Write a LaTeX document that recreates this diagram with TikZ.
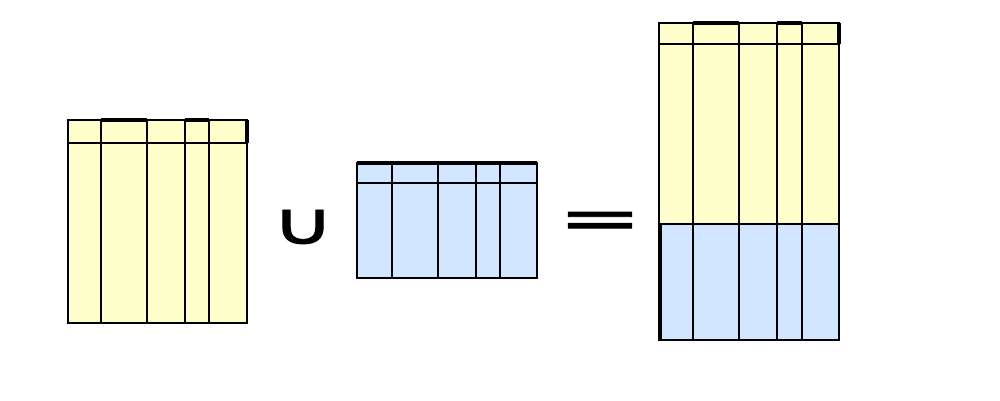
\documentclass[tikz,border=0pt]{standalone}
\usepackage{fontspec}
\newfontfamily\symfont[FakeBold=1.5]{DejaVu Sans}
\definecolor{ylw}{HTML}{FFFFCC}
\definecolor{blu}{HTML}{D2E6FF}
\begin{document}
\begin{tikzpicture}[x=1pt,y=-1pt,
  gridline/.style={draw=black, line width=2pt},
  frame/.style={draw=black, line width=2.6pt},
  heavy/.style={draw=black, line width=4.5pt},
  op/.style={inner sep=0pt, outer sep=0pt, font=\symfont}]
\useasboundingbox[fill=white] (0,0) rectangle (1000,400);
% left table (yellow)
\fill[ylw] (68,120) rectangle (247,323);
\draw[gridline] (68,143) -- (247,143);
\foreach \c in {101,147,185,209} \draw[gridline] (\c,120) -- (\c,323);
\draw[frame] (68,120) rectangle (247,323);
\draw[heavy] (101,120) -- (147,120);
\draw[heavy] (185,120) -- (209,120);
\draw[heavy] (247,120) -- (247,143);
% middle table (blue)
\fill[blu] (357,163) rectangle (537,278);
\draw[gridline] (357,183) -- (537,183);
\foreach \c in {392,438,476,500} \draw[gridline] (\c,163) -- (\c,278);
\draw[frame] (357,163) rectangle (537,278);
\draw[heavy] (357,163) -- (537,163);
% operators
\node[op] (cup) at (303,227) {\resizebox{62pt}{34pt}{∪}};
\node[op] (eq) at (600,225) {\resizebox{84pt}{26pt}{=}};
% right table (result)
\fill[ylw] (659,23) rectangle (839,224);
\fill[blu] (659,224) rectangle (839,340);
\draw[gridline] (659,44) -- (839,44);
\foreach \c in {693,739,777,802} \draw[gridline] (\c,23) -- (\c,340);
\draw[frame] (659,224) -- (839,224);
\draw[frame] (659,23) rectangle (839,340);
\draw[heavy] (693,23) -- (739,23);
\draw[heavy] (777,23) -- (802,23);
\draw[heavy] (839,23) -- (839,44);
\draw[heavy] (660,224) -- (660,340);
\end{tikzpicture}
\end{document}
